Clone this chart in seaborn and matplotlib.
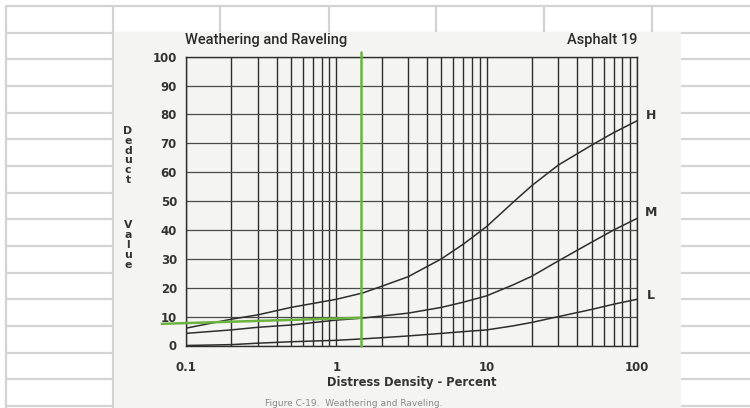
import numpy as np
import pandas as pd
import matplotlib
matplotlib.use("Agg")
import matplotlib.pyplot as plt
import seaborn as sns
from matplotlib.patches import Rectangle

# ---------------- data ----------------
density = [0.1, 0.2, 0.3, 0.5, 1, 1.5, 2, 3, 5, 7, 10, 15, 20, 30, 50, 70, 100]
deduct_H = [6.0, 9.1, 10.6, 13.2, 16.0, 18.2, 20.5, 23.8, 30.0, 35.1, 41.2, 49.6, 55.4, 62.5, 69.4, 73.7, 77.8]
deduct_M = [4.2, 5.4, 6.3, 7.1, 8.8, 9.5, 10.2, 11.2, 13.2, 15.0, 17.2, 21.0, 24.0, 29.3, 35.8, 40.0, 44.0]
deduct_L = [0.0, 0.3, 0.8, 1.3, 1.8, 2.3, 2.7, 3.3, 4.2, 4.8, 5.4, 6.8, 8.0, 10.0, 12.5, 14.3, 16.0]
severity = ["H", "M", "L"]
y_ticks = [0, 10, 20, 30, 40, 50, 60, 70, 80, 90, 100]
x_ticks = [0.1, 1, 10, 100]
x_tick_labels = ["0.1", "1", "10", "100"]
guide_x = 1.45             # green vertical reading line
guide_v_y = [0, 101.5]
guide_h_x = [0.069, 1.45]  # green horizontal reading line
guide_h_y = [7.5, 9.6]

df = pd.DataFrame({
    "density": density * 3,
    "deduct": deduct_H + deduct_M + deduct_L,
    "sev": ["H"] * len(density) + ["M"] * len(density) + ["L"] * len(density),
})

sns.set_style("white")
plt.rcParams["font.family"] = ["DejaVu Sans"]

W, H = 750, 408
fig = plt.figure(figsize=(7.5, 4.08), dpi=100)
fig.patch.set_facecolor("white")

# ---------- spreadsheet background ----------
bg = fig.add_axes([0, 0, 1, 1])
bg.set_xlim(0, W)
bg.set_ylim(H, 0)
bg.axis("off")
gcol = "#d3d3d3"
row_ys = [6 + 26.67 * i for i in range(16)]
for yy in row_ys:
    bg.plot([6, W], [yy, yy], color=gcol, lw=1.6, solid_capstyle="butt")
bg.plot([6, 6], [6, H], color=gcol, lw=1.6)
bg.plot([113, 113], [6, H], color=gcol, lw=1.6)
for xx in [220, 329, 436, 544, 652]:
    bg.plot([xx, xx], [6, 33], color=gcol, lw=1.6)
# scanned page
bg.add_patch(Rectangle((113.5, 32), 681 - 113.5, H - 32, facecolor="#f4f4f2",
                       edgecolor="none", zorder=3))

# ---------- main chart ----------
left, right = 186 / W, 637 / W
bottom, top = 1 - 345.5 / H, 1 - 56.7 / H
ax = fig.add_axes([left, bottom, right - left, top - bottom])
ax.set_facecolor("none")
ax.set_xscale("log")
ax.set_xlim(0.1, 100)
ax.set_ylim(0, 100)

ink = "#2e2e2e"
minor = [m * 10.0 ** e for e in (-1, 0, 1) for m in range(1, 10)] + [100]
for xv in minor:
    ax.axvline(xv, color=ink, lw=1.0, zorder=1)
for yv in y_ticks:
    ax.axhline(yv, color="#4a4a4a", lw=0.9, zorder=1)

sns.lineplot(data=df, x="density", y="deduct", hue="sev", hue_order=severity,
             palette={"H": ink, "M": ink, "L": ink}, lw=1.1, legend=False,
             ax=ax, zorder=3, estimator=None, sort=True)

green = "#6cb33f"
ax.plot([guide_x, guide_x], guide_v_y, color=green, lw=1.8, clip_on=False, zorder=5)
ax.plot(guide_h_x, guide_h_y, color=green, lw=1.8, clip_on=False, zorder=5)

for s in ax.spines.values():
    s.set_color(ink)
    s.set_linewidth(1.0)

ax.set_xticks(x_ticks)
ax.set_xticklabels(x_tick_labels)
ax.set_xticks(minor, minor=True)
ax.xaxis.set_minor_formatter(matplotlib.ticker.NullFormatter())
ax.set_yticks(y_ticks)
ax.tick_params(axis="both", which="both", direction="out", color=ink, width=1.0,
               labelsize=8.5, labelcolor="#333333")
ax.tick_params(axis="x", which="both", length=4, pad=7)
ax.tick_params(axis="y", length=3.5, pad=3)
for lab in ax.get_xticklabels() + ax.get_yticklabels():
    lab.set_fontweight("bold")
ax.set_xlabel("")
ax.set_ylabel("")

# severity labels at the right end of each curve
for name, vals, dy in zip(severity, [deduct_H, deduct_M, deduct_L], [4, 4, 2.5]):
    ax.annotate(name, xy=(100, vals[-1]), xytext=(10, dy),
                textcoords="offset points", ha="center", va="center",
                fontsize=9, fontweight="bold", color="#333333", annotation_clip=False)

def ftext(x, y, s, **kw):
    fig.text(x / W, 1 - y / H, s, **kw)

ftext(185, 40, "Weathering and Raveling", fontsize=10.5, family=["Roboto", "DejaVu Sans"],
      fontweight="medium", color="#2b2b2b", ha="left", va="center")
ftext(637, 40, "Asphalt 19", fontsize=10.5, family=["Roboto", "DejaVu Sans"],
      fontweight="medium", color="#2b2b2b", ha="right", va="center")
ftext(412, 382.5, "Distress Density - Percent", fontsize=8.3, fontweight="bold",
      color="#333333", ha="center", va="center")
for i, ch in enumerate("Deduct"):
    ftext(128, 131 + 9.8 * i, ch, fontsize=7.8, fontweight="bold", color="#333333",
          ha="center", va="center")
for i, ch in enumerate("Value"):
    ftext(128, 225 + 10.0 * i, ch, fontsize=7.8, fontweight="bold", color="#333333",
          ha="center", va="center")
ftext(265, 407.5, "Figure C-19.  Weathering and Raveling.", fontsize=6.5, color="#8a8a8a",
      ha="left", va="bottom")

fig.savefig("out.png", dpi=100)
